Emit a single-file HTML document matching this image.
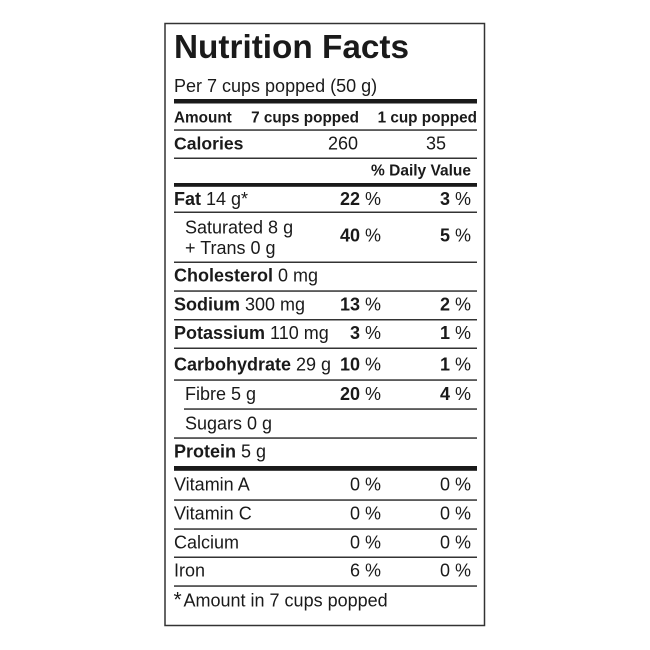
<!DOCTYPE html>
<html>
<head>
<meta charset="utf-8">
<style>
  html, body { margin: 0; padding: 0; background: #fff; }
  svg { display: block; }
  text { font-family: "Liberation Sans", Arial, sans-serif; fill: #1a1a1a; }
  .b { font-weight: bold; }
</style>
</head>
<body>
<svg width="650" height="650" viewBox="0 0 650 650" xmlns="http://www.w3.org/2000/svg">
  <rect x="0" y="0" width="650" height="650" fill="#fff"/>
  <rect x="165" y="23.5" width="319.5" height="602" fill="none" stroke="#333" stroke-width="1.5"/>

  <!-- Title -->
  <text x="174" y="58" font-size="33" class="b" textLength="235" lengthAdjust="spacingAndGlyphs">Nutrition Facts</text>
  <text x="174" y="92" font-size="18">Per 7 cups popped (50 g)</text>
  <rect x="174" y="99" width="303" height="4.5" fill="#1a1a1a"/>

  <!-- Amount header -->
  <text x="174" y="122.5" font-size="15.3" class="b">Amount</text>
  <text x="359" y="122.5" font-size="15.3" class="b" text-anchor="end">7 cups popped</text>
  <text x="477" y="122.5" font-size="15.3" class="b" text-anchor="end">1 cup popped</text>
  <rect x="174" y="129.3" width="303" height="1.5" fill="#333"/>

  <!-- Calories -->
  <text x="174" y="149.3" font-size="17.6" class="b">Calories</text>
  <text x="358" y="149.3" font-size="18" text-anchor="end">260</text>
  <text x="446" y="149.3" font-size="18" text-anchor="end">35</text>
  <rect x="174" y="157.5" width="303" height="1.5" fill="#333"/>

  <text x="471" y="175.7" font-size="15.5" class="b" text-anchor="end">% Daily Value</text>
  <rect x="174" y="183" width="303" height="3.8" fill="#1a1a1a"/>

  <!-- Fat -->
  <text x="174" y="205" font-size="18"><tspan class="b">Fat</tspan> 14 g*</text>
  <text x="381" y="205" font-size="18" text-anchor="end"><tspan class="b">22</tspan> %</text>
  <text x="471" y="205" font-size="18" text-anchor="end"><tspan class="b">3</tspan> %</text>
  <rect x="174" y="211.5" width="303" height="1.5" fill="#333"/>

  <!-- Saturated -->
  <text x="185" y="233.3" font-size="18">Saturated 8 g</text>
  <text x="185" y="254" font-size="18">+ Trans 0 g</text>
  <text x="381" y="241.7" font-size="18" text-anchor="end"><tspan class="b">40</tspan> %</text>
  <text x="471" y="241.7" font-size="18" text-anchor="end"><tspan class="b">5</tspan> %</text>
  <rect x="174" y="261.5" width="303" height="1.5" fill="#333"/>

  <!-- Cholesterol -->
  <text x="174" y="281.7" font-size="18"><tspan class="b">Cholesterol</tspan> 0 mg</text>
  <rect x="174" y="290.3" width="303" height="1.5" fill="#333"/>

  <!-- Sodium -->
  <text x="174" y="310.7" font-size="18"><tspan class="b">Sodium</tspan> 300 mg</text>
  <text x="381" y="310.7" font-size="18" text-anchor="end"><tspan class="b">13</tspan> %</text>
  <text x="471" y="310.7" font-size="18" text-anchor="end"><tspan class="b">2</tspan> %</text>
  <rect x="174" y="319" width="303" height="1.5" fill="#333"/>

  <!-- Potassium -->
  <text x="174" y="339" font-size="18"><tspan class="b">Potassium</tspan> 110 mg</text>
  <text x="381" y="339" font-size="18" text-anchor="end"><tspan class="b">3</tspan> %</text>
  <text x="471" y="339" font-size="18" text-anchor="end"><tspan class="b">1</tspan> %</text>
  <rect x="174" y="347.5" width="303" height="1.5" fill="#333"/>

  <!-- Carbohydrate -->
  <text x="174" y="370.7" font-size="18"><tspan class="b">Carbohydrate</tspan> 29 g</text>
  <text x="381" y="370.7" font-size="18" text-anchor="end"><tspan class="b">10</tspan> %</text>
  <text x="471" y="370.7" font-size="18" text-anchor="end"><tspan class="b">1</tspan> %</text>
  <rect x="174" y="379.3" width="303" height="1.5" fill="#333"/>

  <!-- Fibre -->
  <text x="185" y="400" font-size="18">Fibre 5 g</text>
  <text x="381" y="400" font-size="18" text-anchor="end"><tspan class="b">20</tspan> %</text>
  <text x="471" y="400" font-size="18" text-anchor="end"><tspan class="b">4</tspan> %</text>
  <rect x="184" y="408.3" width="293" height="1.5" fill="#333"/>

  <!-- Sugars -->
  <text x="185" y="429.3" font-size="18">Sugars 0 g</text>
  <rect x="174" y="437.3" width="303" height="1.5" fill="#333"/>

  <!-- Protein -->
  <text x="174" y="457.3" font-size="18"><tspan class="b">Protein</tspan> 5 g</text>
  <rect x="174" y="466" width="303" height="4.8" fill="#1a1a1a"/>

  <!-- Vitamins -->
  <text x="174" y="490.7" font-size="18">Vitamin A</text>
  <text x="381" y="490.7" font-size="18" text-anchor="end">0 %</text>
  <text x="471" y="490.7" font-size="18" text-anchor="end">0 %</text>
  <rect x="174" y="499.3" width="303" height="1.5" fill="#333"/>

  <text x="174" y="519.3" font-size="18">Vitamin C</text>
  <text x="381" y="519.3" font-size="18" text-anchor="end">0 %</text>
  <text x="471" y="519.3" font-size="18" text-anchor="end">0 %</text>
  <rect x="174" y="528.3" width="303" height="1.5" fill="#333"/>

  <text x="174" y="548.3" font-size="18">Calcium</text>
  <text x="381" y="548.3" font-size="18" text-anchor="end">0 %</text>
  <text x="471" y="548.3" font-size="18" text-anchor="end">0 %</text>
  <rect x="174" y="556.5" width="303" height="1.5" fill="#333"/>

  <text x="174" y="576.7" font-size="18">Iron</text>
  <text x="381" y="576.7" font-size="18" text-anchor="end">6 %</text>
  <text x="471" y="576.7" font-size="18" text-anchor="end">0 %</text>
  <rect x="174" y="585.3" width="303" height="1.5" fill="#333"/>

  <!-- Footnote -->
  <text x="173.5" y="606.5" font-size="21">*</text>
  <text x="183.5" y="606.7" font-size="18">Amount in 7 cups popped</text>
</svg>
</body>
</html>
